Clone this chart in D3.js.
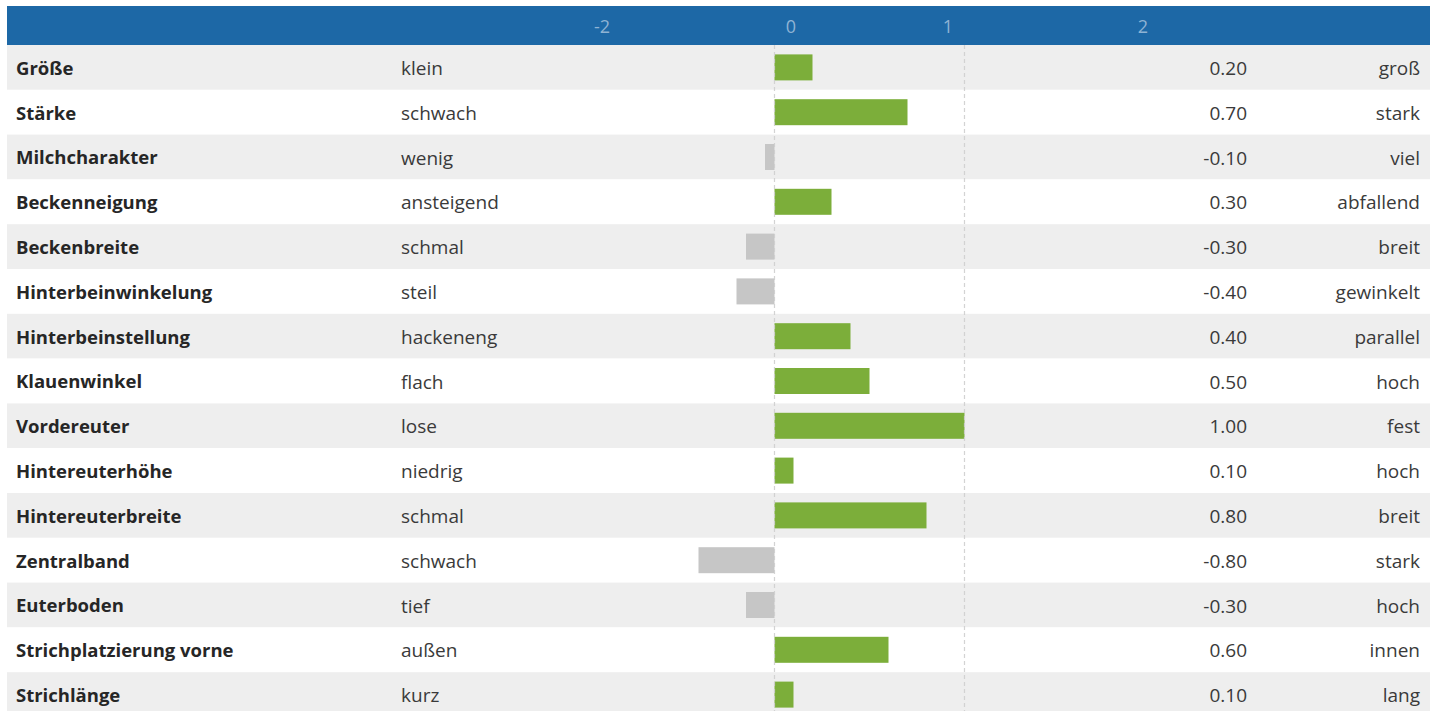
<!DOCTYPE html>
<html>
<head>
<meta charset="utf-8">
<script src="https://cdn.jsdelivr.net/npm/d3@7"></script>
<style>
  html, body { margin: 0; padding: 0; background: #fff; overflow: hidden; }
  text { font-family: "Open Sans", sans-serif; }
</style>
</head>
<body>
<div id="chart"></div>
<script>
const traits = ['Größe','Stärke','Milchcharakter','Beckenneigung','Beckenbreite','Hinterbeinwinkelung',
  'Hinterbeinstellung','Klauenwinkel','Vordereuter','Hintereuterhöhe','Hintereuterbreite','Zentralband',
  'Euterboden','Strichplatzierung vorne','Strichlänge'];
const lowLabels = ['klein','schwach','wenig','ansteigend','schmal','steil','hackeneng','flach','lose',
  'niedrig','schmal','schwach','tief','außen','kurz'];
const highLabels = ['groß','stark','viel','abfallend','breit','gewinkelt','parallel','hoch','fest',
  'hoch','breit','stark','hoch','innen','lang'];
const values = [0.2, 0.7, -0.1, 0.3, -0.3, -0.4, 0.4, 0.5, 1.0, 0.1, 0.8, -0.8, -0.3, 0.6, 0.1];
const headerTicks = [-2, 0, 1, 2];
const gridTicks = [0, 1];

const width = 1437, height = 711;
const left = 7, right = 1430, headTop = 6, headBottom = 45, rowH = 44.8;

const svg = d3.select('#chart').append('svg').attr('width', width).attr('height', height);

const y = d3.scaleBand().domain(d3.range(traits.length))
  .range([headBottom, headBottom + rowH * traits.length]).padding(0);
// negative side is drawn at half the scale of the positive side
const x = d3.scaleLinear().domain([-2, 0, 2]).range([584.5, 774.5, 1154.5]);
// header labels sit at their own positions
const hx = d3.scaleLinear().domain([-2, 0, 1, 2]).range([602, 791, 948, 1143]);

// header
svg.append('rect').attr('x', left).attr('y', headTop).attr('width', right - left)
  .attr('height', headBottom - headTop).attr('fill', '#1d68a6');
svg.selectAll('.htick').data(headerTicks).join('text')
  .attr('x', d => hx(d)).attr('y', 26.5).attr('dy', '0.35em')
  .attr('text-anchor', 'middle').attr('font-size', 18).attr('fill', '#8fb3d4')
  .text(d => d);

// rows
const row = svg.selectAll('.row').data(traits).join('g')
  .attr('transform', (d, i) => `translate(0,${y(i)})`);
row.append('rect').attr('x', left).attr('width', right - left).attr('height', rowH)
  .attr('fill', (d, i) => i % 2 === 0 ? '#eeeeee' : '#ffffff');

const cy = rowH / 2;
const fs = 18.5, fsr = 19;
row.append('text').attr('x', 16).attr('y', cy).attr('dy', '0.4em')
  .attr('font-size', fs).attr('font-weight', 700).attr('fill', '#262626').text(d => d);
row.append('text').attr('x', 401).attr('y', cy).attr('dy', '0.4em')
  .attr('font-size', fsr).attr('fill', '#3a3a3a').text((d, i) => lowLabels[i]);
row.append('text').attr('x', 1247).attr('y', cy).attr('dy', '0.4em').attr('text-anchor', 'end')
  .attr('font-size', fsr).attr('fill', '#3a3a3a').text((d, i) => values[i].toFixed(2));
row.append('text').attr('x', 1420).attr('y', cy).attr('dy', '0.4em').attr('text-anchor', 'end')
  .attr('font-size', fsr).attr('fill', '#3a3a3a').text((d, i) => highLabels[i]);

// bars
const barH = 26;
row.append('rect')
  .attr('x', (d, i) => x(Math.min(0, values[i])))
  .attr('y', cy - barH / 2)
  .attr('width', (d, i) => Math.abs(x(values[i]) - x(0)))
  .attr('height', barH)
  .attr('fill', (d, i) => values[i] >= 0 ? '#7cae3a' : '#c6c6c6');

// dashed grid lines
svg.selectAll('.grid').data(gridTicks).join('line')
  .attr('x1', d => x(d)).attr('x2', d => x(d))
  .attr('y1', headBottom).attr('y2', height)
  .attr('stroke', '#cfcfcf').attr('stroke-width', 1.2).attr('stroke-dasharray', '4,3')
  .attr('opacity', 0.9);
</script>
</body>
</html>
